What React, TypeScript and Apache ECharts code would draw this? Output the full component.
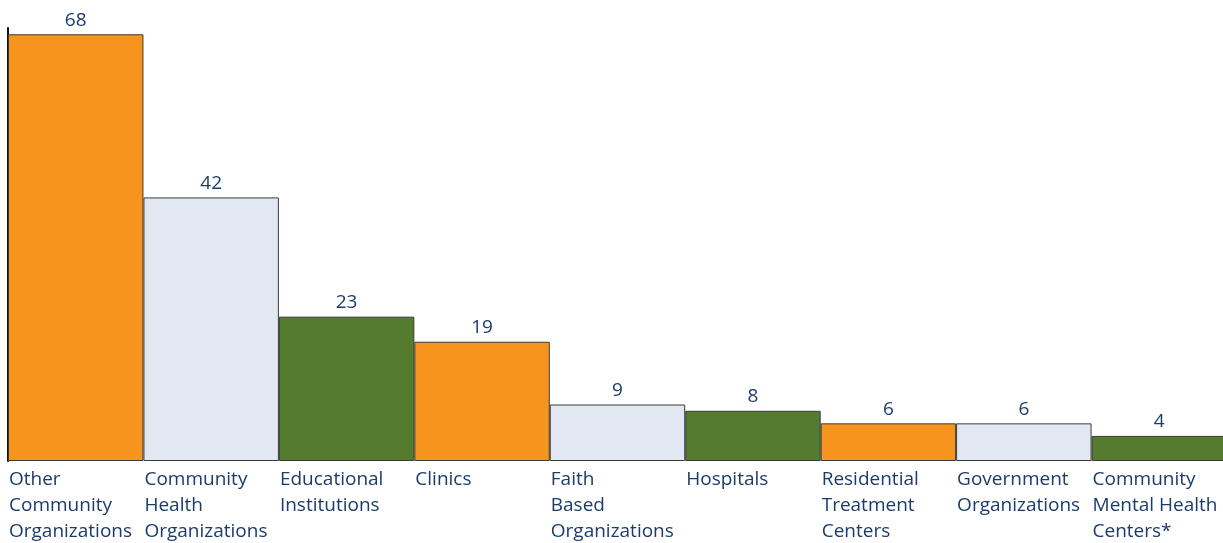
import React, { useEffect, useRef } from "react";
import * as echarts from "echarts";

const categories = [
  "Other\nCommunity\nOrganizations",
  "Community\nHealth\nOrganizations",
  "Educational\nInstitutions",
  "Clinics",
  "Faith\nBased\nOrganizations",
  "Hospitals",
  "Residential\nTreatment\nCenters",
  "Government\nOrganizations",
  "Community\nMental Health\nCenters*",
];
const values = [68, 42, 23, 19, 9, 8, 6, 6, 4];
const barColors = ["#F7941D", "#E1E8F1", "#547B2E"];

const TEXT = "#1B3C6B";
const FONT = "'Open Sans', 'Noto Sans', sans-serif";

export default function App() {
  const ref = useRef<HTMLDivElement>(null);
  useEffect(() => {
    document.body.style.margin = "0";
    document.body.style.overflow = "hidden";
    if (!ref.current) return;
    const chart = echarts.init(ref.current, undefined, { renderer: "svg" });
    chart.setOption({
      animation: false,
      grid: { left: 8, right: 0, top: 28, bottom: 82, containLabel: false },
      xAxis: [
        {
          type: "category",
          data: categories,
          boundaryGap: true,
          axisLine: { show: false },
          axisTick: { show: false },
          axisLabel: { show: false },
        },
        {
          type: "category",
          data: [...categories, ""],
          boundaryGap: false,
          position: "bottom",
          axisLine: { show: false },
          axisTick: { show: false },
          axisLabel: {
            show: true,
            interval: 0,
            align: "left",
            verticalAlign: "top",
            margin: 4,
            padding: [0, 0, 0, 1],
            color: TEXT,
            fontFamily: FONT,
            fontSize: 19,
            lineHeight: 26,
          },
        },
      ],
      yAxis: {
        type: "value",
        min: 0,
        max: 69,
        axisLine: { show: true, lineStyle: { color: "#111", width: 2 } },
        axisTick: { show: false },
        axisLabel: { show: false },
        splitLine: { show: false },
      },
      series: [
        {
          type: "bar",
          xAxisIndex: 0,
          barCategoryGap: "0%",
          data: values.map((v, i) => ({
            value: v,
            itemStyle: {
              color: barColors[i % 3],
              borderColor: "#3a3a3a",
              borderWidth: 1,
            },
          })),
          label: {
            show: true,
            position: "top",
            distance: 6,
            color: TEXT,
            fontFamily: FONT,
            fontSize: 19,
          },
        },
      ],
    });
    return () => chart.dispose();
  }, []);
  return (
    <div
      ref={ref}
      style={{ width: 1231, height: 543, position: "fixed", left: 0, top: 0 }}
    />
  );
}
